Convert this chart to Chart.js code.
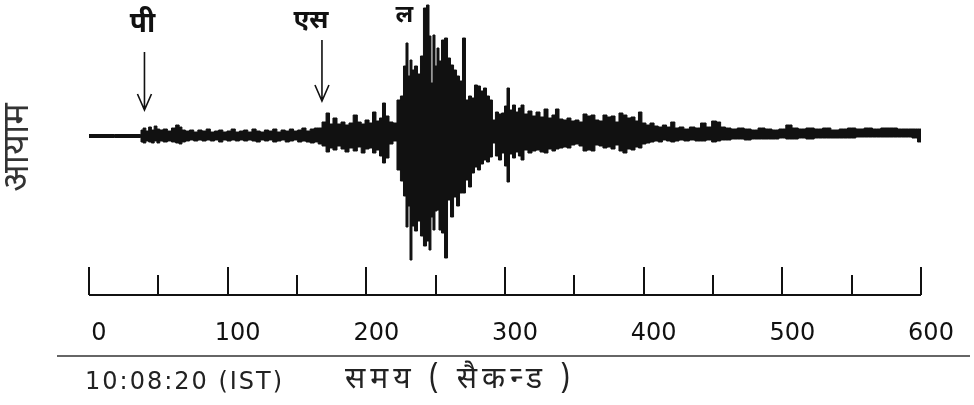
<!DOCTYPE html>
<html>
<head>
<meta charset="utf-8">
<script src="https://cdn.jsdelivr.net/npm/chart.js@4.4.0/dist/chart.umd.min.js"></script>
<style>
  html, body { margin: 0; padding: 0; background: #fff; }
  #wrap { width: 974px; height: 405px; }
</style>
</head>
<body>
<div id="wrap"><canvas id="seismo"></canvas></div>
<script>
// time in seconds after 10:08:20 IST, amplitude envelope
const timeSec = [
  0, 37, 38, 40, 42, 44, 46, 48, 50, 52, 55, 58, 61, 64, 66, 68, 71, 74, 77, 80, 83, 86, 89, 92, 95, 98,
  101, 104, 107, 110, 113, 116, 119, 122, 125, 128, 131, 134, 137, 140, 143, 146, 149, 152, 155, 158, 161, 164,
  166.6, 169.5, 172.4, 174.5, 177.4, 180.3, 183.2, 186, 189, 192, 195, 197.6, 200.5, 203.4, 205.5, 208.4,
  210.6, 212.7, 214.9, 217.8, 220.7, 223.5,
  225.7, 227.9, 229.3, 230.8, 232.2, 233.6, 235.8, 238, 240.1, 242.3, 244.5, 245.9, 247.3, 248.8, 250.2,
  251.7, 253.1, 255.3, 257.5, 259.6, 261.8, 264, 266.1, 268.3, 270.4, 272.6, 274.8, 276.9, 279.1, 281.2,
  283.4, 285.6, 287.7, 289.9, 292, 294.2, 296.4, 298.6, 300.7, 302.2, 304.3, 306.5, 308.6, 310.8, 312.3,
  315.1, 318, 320.9, 323.8, 326.7, 329.6, 332.4, 335.3, 337.5, 340.4, 343.3, 346.1, 349, 351.9, 354.8,
  357.7, 360.6, 363.4, 366.3, 369.2, 372.1, 375, 377.9, 380.8, 383.6, 386.5, 389.4, 392.3, 395.2, 397.3,
  400.2, 403.1, 406,
  409, 412, 415, 418, 421, 424, 427, 431, 435, 439, 443, 447, 451, 454, 457, 461, 465, 470, 475, 480,
  485, 490, 495, 500, 505, 509, 514, 520, 526, 532, 538, 544, 550, 556, 562, 568, 574, 580, 586, 591,
  596, 599, 600
];
const upperAmp = [
  1.5, 1.5, 6, 8, 5, 9, 6, 10, 7, 6, 7, 5, 8, 11, 9, 6, 5, 6, 4, 6, 5, 7, 4, 5, 6, 4,
  5, 7, 4, 5, 6, 4, 7, 5, 4, 6, 5, 7, 4, 6, 5, 7, 5, 6, 8, 5, 7, 8,
  8, 14, 23, 12, 18, 12, 14, 11, 13, 21, 14, 12, 16, 13, 24, 15,
  18, 33, 20, 14, 13, 36,
  40, 70, 93, 60, 76, 66, 70, 62, 80, 128, 131, 100, 53, 101, 70,
  88, 75, 96, 98, 78, 71, 66, 60, 55, 98, 36, 40, 38, 51, 50,
  45, 48, 40, 36, 16, 24, 22, 23, 30, 48, 26, 31, 24, 28, 31,
  22, 25, 20, 24, 19, 27, 18, 21, 27, 17, 16, 18, 15, 16, 14,
  22, 20, 21, 16, 15, 21, 19, 20, 14, 23, 21, 18, 19, 15, 24,
  13, 11, 13,
  10, 9, 11, 9, 14, 8, 9, 7, 9, 8, 13, 9, 15, 14, 9, 8, 7, 8, 7, 6,
  8, 7, 6, 7, 11, 8, 7, 8, 7, 8, 6, 7, 8, 7, 8, 7, 8, 8, 7, 7,
  7, 7, 7
];
const lowerAmp = [
  -1.5, -1.5, -6, -7, -5, -6, -7, -5, -7, -5, -6, -5, -6, -7, -8, -6, -5, -4, -5, -4, -5, -4, -5, -4, -6, -4,
  -5, -4, -5, -4, -5, -4, -5, -6, -4, -5, -4, -6, -5, -4, -6, -5, -4, -6, -5, -6, -7, -6,
  -8, -10, -16, -12, -14, -10, -13, -16, -12, -15, -11, -17, -13, -12, -17, -14,
  -20, -27, -22, -8, -5, -34,
  -45, -60, -91, -70, -124, -90, -95, -85, -100, -110, -105, -114, -81, -94, -75,
  -74, -94, -97, -122, -64, -81, -61, -70, -57, -57, -44, -51, -37, -31, -34,
  -28, -24, -26, -21, -7, -20, -24, -17, -30, -46, -18, -22, -16, -20, -24,
  -14, -17, -15, -14, -16, -17, -13, -15, -13, -12, -11, -12, -9, -8, -10,
  -15, -14, -15, -9, -10, -12, -11, -13, -9, -15, -17, -13, -14, -11, -12,
  -8, -7, -6,
  -5, -6, -4, -5, -6, -5, -4, -5, -4, -5, -5, -4, -6, -5, -4, -4, -3, -3, -4, -3,
  -3, -3, -3, -2, -3, -3, -2, -3, -2, -2, -2, -2, -2, -1, -1, -1, -1, -1, -1, -1,
  -2, -6, -6
];

const majorTicks = [0, 100, 200, 300, 400, 500, 600];
const minorTicks = [50, 150, 250, 350, 450, 550];

const phaseNames = ['पी', 'एस', 'ल'];
const phaseLabelTimes = [38.5, 160, 227.5];
const arrowTimes = [40, 168];

const startClock = '10:08:20 (IST)';
const xTitle = 'समय ( सैकन्ड )';
const yTitle = 'आयाम';

const hindiFont = "'Noto Sans Devanagari', 'Noto Sans', sans-serif";
const ink = '#111';

// axis line with ticks pointing up, arrows and labels
const seismoDecor = {
  id: 'seismoDecor',
  afterDraw(chart) {
    const { ctx, chartArea, scales: { x, y } } = chart;
    const base = chartArea.bottom;
    ctx.save();
    ctx.strokeStyle = ink;
    ctx.lineWidth = 2;
    ctx.beginPath();
    ctx.moveTo(x.getPixelForValue(0), base);
    ctx.lineTo(x.getPixelForValue(600), base);
    majorTicks.forEach(v => {
      const px = Math.round(x.getPixelForValue(v));
      ctx.moveTo(px, base);
      ctx.lineTo(px, base - 28);
    });
    minorTicks.forEach(v => {
      const px = Math.round(x.getPixelForValue(v));
      ctx.moveTo(px, base);
      ctx.lineTo(px, base - 20);
    });
    ctx.stroke();

    // arrows for P and S arrivals
    ctx.lineWidth = 1.6;
    const arrowSpans = [[84, 26], [96, 35]];
    arrowTimes.forEach((t, i) => {
      const px = x.getPixelForValue(t);
      const y0 = y.getPixelForValue(arrowSpans[i][0]);
      const y1 = y.getPixelForValue(arrowSpans[i][1]);
      ctx.beginPath();
      ctx.moveTo(px, y0);
      ctx.lineTo(px, y1);
      ctx.moveTo(px - 7, y1 - 16);
      ctx.lineTo(px, y1);
      ctx.lineTo(px + 7, y1 - 16);
      ctx.stroke();
    });

    ctx.fillStyle = ink;
    ctx.textAlign = 'center';
    ctx.textBaseline = 'middle';
    const labelAmps = [109, 113, 118];
    const labelSizes = [28, 26, 24];
    phaseNames.forEach((name, i) => {
      ctx.font = 'bold ' + labelSizes[i] + 'px ' + hindiFont;
      ctx.fillText(name, x.getPixelForValue(phaseLabelTimes[i]), y.getPixelForValue(labelAmps[i]));
    });

    // separator and bottom captions
    const sepY = base + 61;
    ctx.lineWidth = 1.5;
    ctx.strokeStyle = '#333';
    ctx.beginPath();
    ctx.moveTo(57, sepY);
    ctx.lineTo(970, sepY);
    ctx.stroke();

    ctx.textAlign = 'left';
    ctx.fillStyle = '#222';
    ctx.font = "24px 'DejaVu Sans', sans-serif";
    ctx.letterSpacing = '2px';
    ctx.fillText(startClock, x.getPixelForValue(0) - 4, sepY + 27);
    ctx.font = '30px ' + hindiFont;
    ctx.letterSpacing = '5px';
    ctx.fillText(xTitle, 345, sepY + 26);
    ctx.restore();
  }
};

const upperPts = timeSec.map((t, i) => ({ x: t, y: upperAmp[i] }));
const lowerPts = timeSec.map((t, i) => ({ x: t, y: lowerAmp[i] }));

new Chart(document.getElementById('seismo'), {
  type: 'line',
  data: {
    datasets: [
      { data: upperPts, borderColor: ink, borderWidth: 1, pointRadius: 0, stepped: 'middle', fill: false },
      { data: lowerPts, borderColor: ink, borderWidth: 1, pointRadius: 0, stepped: 'middle',
        fill: '-1', backgroundColor: ink }
    ]
  },
  options: {
    responsive: true,
    maintainAspectRatio: false,
    animation: false,
    layout: { padding: { left: 0, right: 53, top: 0, bottom: 0 } },
    plugins: { legend: { display: false }, tooltip: { enabled: false } },
    scales: {
      x: {
        type: 'linear', min: 0, max: 600,
        grid: { display: false },
        border: { display: false },
        ticks: {
          stepSize: 100, autoSkip: false, maxRotation: 0, padding: 16, labelOffset: 10,
          color: ink, font: { family: "'DejaVu Sans', sans-serif", size: 24 }
        },
        afterFit: s => { s.height = 110; }
      },
      y: {
        min: -159, max: 136,
        grid: { display: false },
        border: { display: false },
        ticks: { display: false },
        title: {
          display: true, text: yTitle, color: '#333', padding: { top: 0, bottom: 0 },
          font: { family: hindiFont, size: 36 }
        },
        afterFit: s => { s.width = 89; }
      }
    }
  },
  plugins: [seismoDecor]
});
</script>
</body>
</html>
